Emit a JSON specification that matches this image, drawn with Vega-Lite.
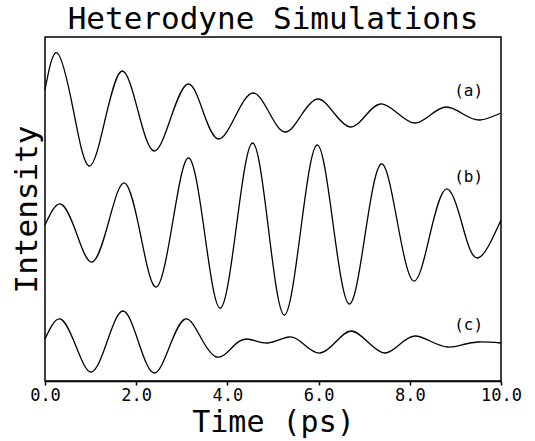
{
  "$schema": "https://vega.github.io/schema/vega-lite/v6.json",
  "width": 456,
  "height": 344,
  "autosize": {"type": "none"},
  "padding": {"left": 45, "top": 37, "right": 34, "bottom": 60},
  "background": "white",
  "title": {
    "text": "Heterodyne Simulations",
    "font": "DejaVu Sans Mono",
    "fontSize": 31,
    "fontWeight": "normal",
    "color": "black",
    "anchor": "middle",
    "offset": 1
  },
  "config": {
    "view": {"stroke": "black", "strokeWidth": 1.5}
  },
  "datasets": {
    "curves": [
      {"series": "a", "t": 0, "intensity": 2.91},
      {"series": "a", "t": 0.27, "intensity": 3.28},
      {"series": "a", "t": 0.617, "intensity": 2.72},
      {"series": "a", "t": 0.963, "intensity": 2.15},
      {"series": "a", "t": 1.326, "intensity": 2.63},
      {"series": "a", "t": 1.688, "intensity": 3.10},
      {"series": "a", "t": 2.04, "intensity": 2.70},
      {"series": "a", "t": 2.391, "intensity": 2.30},
      {"series": "a", "t": 2.765, "intensity": 2.64},
      {"series": "a", "t": 3.138, "intensity": 2.97},
      {"series": "a", "t": 3.47, "intensity": 2.69},
      {"series": "a", "t": 3.802, "intensity": 2.42},
      {"series": "a", "t": 4.178, "intensity": 2.65},
      {"series": "a", "t": 4.554, "intensity": 2.88},
      {"series": "a", "t": 4.909, "intensity": 2.69},
      {"series": "a", "t": 5.264, "intensity": 2.49},
      {"series": "a", "t": 5.623, "intensity": 2.66},
      {"series": "a", "t": 5.982, "intensity": 2.82},
      {"series": "a", "t": 6.337, "intensity": 2.68},
      {"series": "a", "t": 6.692, "intensity": 2.54},
      {"series": "a", "t": 7.022, "intensity": 2.65},
      {"series": "a", "t": 7.352, "intensity": 2.77},
      {"series": "a", "t": 7.726, "intensity": 2.68},
      {"series": "a", "t": 8.099, "intensity": 2.58},
      {"series": "a", "t": 8.451, "intensity": 2.66},
      {"series": "a", "t": 8.802, "intensity": 2.74},
      {"series": "a", "t": 9.168, "intensity": 2.67},
      {"series": "a", "t": 9.534, "intensity": 2.61},
      {"series": "a", "t": 10, "intensity": 2.68},
      {"series": "b", "t": 0, "intensity": 1.56},
      {"series": "b", "t": 0.341, "intensity": 1.77},
      {"series": "b", "t": 0.689, "intensity": 1.48},
      {"series": "b", "t": 1.037, "intensity": 1.19},
      {"series": "b", "t": 1.392, "intensity": 1.585},
      {"series": "b", "t": 1.747, "intensity": 1.98},
      {"series": "b", "t": 2.096, "intensity": 1.46},
      {"series": "b", "t": 2.444, "intensity": 0.94},
      {"series": "b", "t": 2.799, "intensity": 1.585},
      {"series": "b", "t": 3.154, "intensity": 2.23},
      {"series": "b", "t": 3.5, "intensity": 1.48},
      {"series": "b", "t": 3.846, "intensity": 0.73},
      {"series": "b", "t": 4.2, "intensity": 1.555},
      {"series": "b", "t": 4.554, "intensity": 2.38},
      {"series": "b", "t": 4.901, "intensity": 1.52},
      {"series": "b", "t": 5.248, "intensity": 0.66},
      {"series": "b", "t": 5.608, "intensity": 1.51},
      {"series": "b", "t": 5.967, "intensity": 2.36},
      {"series": "b", "t": 6.319, "intensity": 1.565},
      {"series": "b", "t": 6.67, "intensity": 0.77},
      {"series": "b", "t": 7.022, "intensity": 1.47},
      {"series": "b", "t": 7.374, "intensity": 2.17},
      {"series": "b", "t": 7.729, "intensity": 1.585},
      {"series": "b", "t": 8.084, "intensity": 1.0},
      {"series": "b", "t": 8.44, "intensity": 1.46},
      {"series": "b", "t": 8.796, "intensity": 1.92},
      {"series": "b", "t": 9.143, "intensity": 1.575},
      {"series": "b", "t": 9.49, "intensity": 1.23},
      {"series": "b", "t": 10, "intensity": 1.61},
      {"series": "c", "t": 0, "intensity": 0.42},
      {"series": "c", "t": 0.33, "intensity": 0.62},
      {"series": "c", "t": 0.673, "intensity": 0.355},
      {"series": "c", "t": 1.015, "intensity": 0.09},
      {"series": "c", "t": 1.363, "intensity": 0.395},
      {"series": "c", "t": 1.71, "intensity": 0.70},
      {"series": "c", "t": 2.05, "intensity": 0.39},
      {"series": "c", "t": 2.391, "intensity": 0.08},
      {"series": "c", "t": 2.736, "intensity": 0.35},
      {"series": "c", "t": 3.081, "intensity": 0.62},
      {"series": "c", "t": 3.422, "intensity": 0.43},
      {"series": "c", "t": 3.763, "intensity": 0.24},
      {"series": "c", "t": 4.093, "intensity": 0.33},
      {"series": "c", "t": 4.422, "intensity": 0.42},
      {"series": "c", "t": 4.884, "intensity": 0.38},
      {"series": "c", "t": 5.352, "intensity": 0.44},
      {"series": "c", "t": 5.693, "intensity": 0.36},
      {"series": "c", "t": 6.033, "intensity": 0.28},
      {"series": "c", "t": 6.374, "intensity": 0.39},
      {"series": "c", "t": 6.714, "intensity": 0.50},
      {"series": "c", "t": 7.08, "intensity": 0.39},
      {"series": "c", "t": 7.446, "intensity": 0.28},
      {"series": "c", "t": 7.776, "intensity": 0.365},
      {"series": "c", "t": 8.105, "intensity": 0.45},
      {"series": "c", "t": 8.468, "intensity": 0.395},
      {"series": "c", "t": 8.831, "intensity": 0.34},
      {"series": "c", "t": 9.172, "intensity": 0.365},
      {"series": "c", "t": 9.512, "intensity": 0.39},
      {"series": "c", "t": 10, "intensity": 0.38}
    ],
    "labels": [
      {"t": 9.29, "intensity": 2.90, "label": "(a)"},
      {"t": 9.29, "intensity": 2.04, "label": "(b)"},
      {"t": 9.29, "intensity": 0.56, "label": "(c)"}
    ]
  },
  "layer": [
    {
      "data": {"name": "curves"},
      "mark": {"type": "line", "interpolate": "natural", "color": "black", "strokeWidth": 1.3},
      "encoding": {
        "x": {
          "field": "t",
          "type": "quantitative",
          "scale": {"domain": [0, 10], "nice": false},
          "axis": {
            "title": "Time (ps)",
            "values": [0, 2, 4, 6, 8, 10],
            "format": ".1f",
            "grid": false,
            "tickSize": 4,
            "tickColor": "black",
            "tickWidth": 1.5,
            "domainColor": "black",
            "domainWidth": 1.5,
            "labelFont": "DejaVu Sans Mono",
            "labelFontSize": 17,
            "labelColor": "black",
            "labelPadding": 2,
            "labelFlush": false,
            "labelOverlap": false,
            "titleFont": "DejaVu Sans Mono",
            "titleFontSize": 30,
            "titleFontWeight": "normal",
            "titleColor": "black",
            "titlePadding": 4
          }
        },
        "y": {
          "field": "intensity",
          "type": "quantitative",
          "scale": {"domain": [0, 3.44], "nice": false, "zero": false},
          "axis": {
            "title": "Intensity",
            "domain": false,
            "ticks": false,
            "labels": false,
            "grid": false,
            "titleFont": "DejaVu Sans Mono",
            "titleFontSize": 31,
            "titleFontWeight": "normal",
            "titleColor": "black",
            "titlePadding": 2
          }
        },
        "detail": {"field": "series"}
      }
    },
    {
      "data": {"name": "labels"},
      "mark": {"type": "text", "font": "DejaVu Sans Mono", "fontSize": 16, "color": "black"},
      "encoding": {
        "x": {"field": "t", "type": "quantitative"},
        "y": {"field": "intensity", "type": "quantitative"},
        "text": {"field": "label"}
      }
    }
  ]
}
